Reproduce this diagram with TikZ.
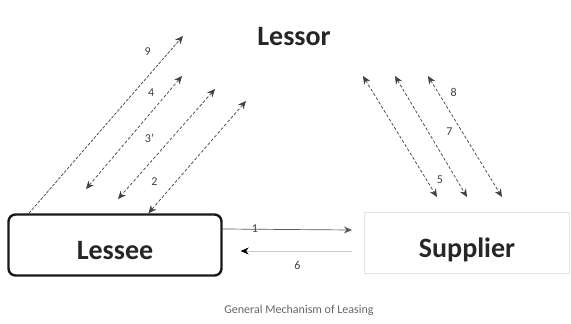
\documentclass[tikz,border=0pt]{standalone}
\usepackage{fontspec}
\setmainfont{Carlito}
\usetikzlibrary{arrows.meta, positioning, calc}

\begin{document}
\begin{tikzpicture}[
                x=1pt, y=-1pt,
                party/.style={font=\fontsize{28}{30}\selectfont\bfseries, text=black!85},
                box/.style={rectangle, party, minimum height=61pt, inner sep=0pt,
                    text height=30pt, text depth=2pt},
                num/.style={font=\fontsize{12}{14}\selectfont, text=black!75, inner sep=1pt},
                flow/.style={{Stealth[length=8pt, width=7pt]}-{Stealth[length=8pt, width=7pt]},
                    dash pattern=on 3pt off 2pt, line width=0.7pt, color=black!75},
                oneway/.style={-{Stealth[length=8pt, width=7pt]},
                    dash pattern=on 3pt off 1.5pt, line width=0.7pt, color=black!75}
                ]
                \useasboundingbox (0,0) rectangle (571,324);
                \node[party] (lessor) at (294,37) {Lessor};
                \node[box, minimum width=213pt, draw=black!90, line width=2.4pt,
                    rounded corners=7pt] (lessee) at (115,245) {Lessee};
                \node[box, minimum width=205pt, draw=black!10, line width=1pt]
                    (supplier) at (467,243) {Supplier};
                \node[font=\fontsize{12}{14}\selectfont, text=black!60] (caption)
                    at (299,310) {General Mechanism of Leasing};
                % free ends near the lessor
                \coordinate (to9) at (183,36);
                \coordinate (to4) at (182,76);
                \coordinate (fr4) at (86,189);
                \coordinate (to3) at (215,89);
                \coordinate (fr3) at (118,199);
                \coordinate (to2) at (246,101);
                \coordinate (top5) at (363,76);
                \coordinate (bot5) at (437,197);
                \coordinate (top7) at (395,76);
                \coordinate (bot7) at (467,197);
                \coordinate (top8) at (428,76);
                \coordinate (bot8) at (502,197);
                % lessee <-> lessor
                \draw[oneway] ($(lessee.north west)!0.1!(lessee.north east)$) -- (to9)
                    node[num, pos=0.91, left=17pt] {9};
                \draw[flow] (to4) -- (fr4) node[num, pos=0.15, left=12pt] {4};
                \draw[flow] (to3) -- (fr3) node[num, pos=0.45, left=16pt] {3'};
                \draw[flow] (to2) -- ($(lessee.north west)!0.655!(lessee.north east)$)
                    node[num, pos=0.72, left=17pt] {2};
                % lessor <-> supplier
                \draw[flow] (top5) -- (bot5) node[num, pos=0.86, right=9pt] {5};
                \draw[flow] (top7) -- (bot7) node[num, pos=0.46, right=17pt] {7};
                \draw[flow] (top8) -- (bot8) node[num, pos=0.14, right=11pt] {8};
                % lessee <-> supplier
                \draw[-{Stealth[length=8pt, width=7pt]}, line width=0.7pt, color=black!65]
                    ([yshift=16pt]lessee.east) -- ([xshift=-12pt, yshift=13pt]supplier.west)
                    node[num, pos=0.25, above=-5pt] {1};
                \draw[-{Stealth[length=8pt, width=7pt, color=black]}, line width=0.6pt, color=black!20]
                    ([xshift=-12pt, yshift=-8pt]supplier.west) -- ([xshift=18pt, yshift=-6pt]lessee.east)
                    node[num, pos=0.49, below=9pt] {6};
            \end{tikzpicture}
\end{document}
